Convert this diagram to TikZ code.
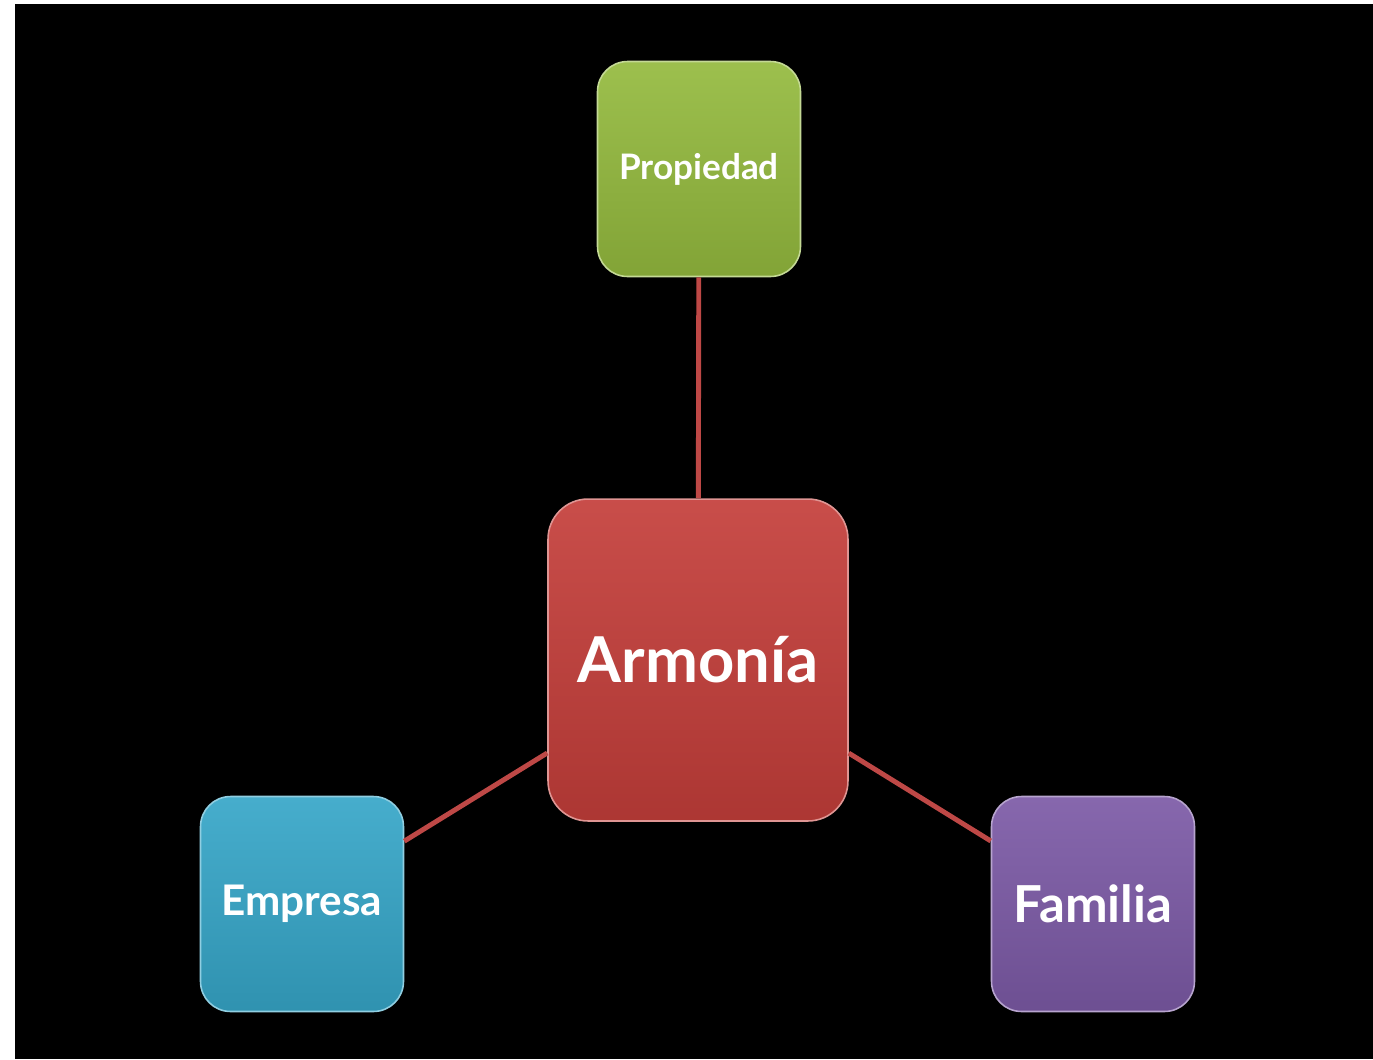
\documentclass[tikz,border=0pt]{standalone}
\usepackage{fontspec}
\setmainfont{Lato}
\usetikzlibrary{positioning}
\definecolor{propgreen}{RGB}{148,186,62}
\definecolor{armred}{RGB}{196,62,58}
\definecolor{empblue}{RGB}{54,166,200}
\definecolor{fampurple}{RGB}{124,90,166}
\definecolor{linkred}{RGB}{190,72,70}

\begin{document}
\begin{tikzpicture}[x=0.02cm,y=-0.02cm,
  box/.style={rounded corners=0.6cm, minimum width=4.06cm, minimum height=4.3cm,
    text=white, draw=#1!55!white, line width=0.9pt,
    top color=#1!92!white, bottom color=#1!88!black},
  link/.style={line width=2.8pt, draw=linkred}]
% Background
\useasboundingbox[fill=white] (0,0) rectangle (1373,1059);
\fill[black] (15,4) rectangle (1373,1059);

% Boxes
\node[box=armred, rounded corners=0.8cm, minimum width=6cm, minimum height=6.44cm,
  font=\fontsize{36}{42}\selectfont\bfseries] (armonia) at (698,660) {Armonía};
\node[box=propgreen, font=\fontsize{20}{24}\selectfont\bfseries] (propiedad) at (699,169) {Propiedad};
\node[box=empblue, font=\fontsize{24}{28}\selectfont\bfseries] (empresa) at (302,904) {Empresa};
\node[box=fampurple, font=\fontsize{29}{34}\selectfont\bfseries] (familia) at (1093,904) {Familia};

% Links
\draw[link] (propiedad) -- (armonia);
\draw[link] (armonia) -- (empresa);
\draw[link] (armonia) -- (familia);
\end{tikzpicture}
\end{document}
